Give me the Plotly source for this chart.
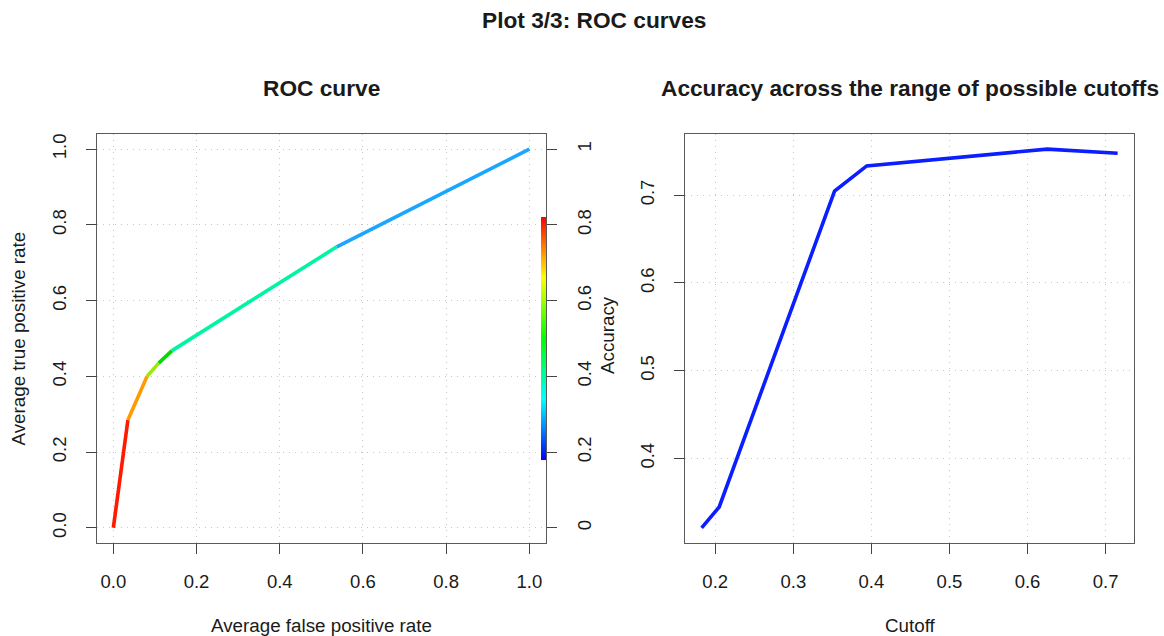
import plotly.graph_objects as go

# ROC curve vertices (averaged false / true positive rates)
roc_fpr = [0.0, 0.035, 0.081, 0.109, 0.141, 0.537, 1.0]
roc_tpr = [0.0, 0.285, 0.400, 0.435, 0.468, 0.742, 1.0]
# colour of each ROC segment (rainbow colour key)
segment_colors = ["#FF1A00", "#FF9A00", "#9BEA00", "#00DC00", "#00F5A0", "#1AA6FF"]

# accuracy versus cutoff
cutoff = [0.1826, 0.2051, 0.3528, 0.3940, 0.6251, 0.7154]
accuracy = [0.3210, 0.3448, 0.7046, 0.7334, 0.7525, 0.7479]

# colour key range and ticks
colorkey_range = [0.18, 0.82]
unit_ticks = [0, 0.2, 0.4, 0.6, 0.8, 1.0]
unit_ticks_right = ["0", "0.2", "0.4", "0.6", "0.8", "1"]
cutoff_ticks = [0.2, 0.3, 0.4, 0.5, 0.6, 0.7]
accuracy_ticks = [0.4, 0.5, 0.6, 0.7]

W, H = 1164, 636
FONT = "Liberation Sans, Arial, Helvetica, sans-serif"
TXT = "#1a1a1a"
TICK_SIZE = 18.5
AXIS_TITLE_SIZE = 18.8
TITLE_SIZE = 22.7


def px_x(p):
    return p / W


def px_y(p):
    return 1 - p / H


def padded(vals):
    lo, hi = min(vals), max(vals)
    d = (hi - lo) * 0.04
    return [lo - d, hi + d]


rainbow = [[0.0, "#0000FF"], [0.25, "#00FFFF"], [0.5, "#00FF00"],
           [0.75, "#FFFF00"], [1.0, "#FF0000"]]

fig = go.Figure()

# ROC segments, one trace per colour
for i, col in enumerate(segment_colors):
    fig.add_trace(go.Scatter(
        x=roc_fpr[i:i + 2], y=roc_tpr[i:i + 2], mode="lines",
        line=dict(color=col, width=3.6), xaxis="x", yaxis="y",
        showlegend=False, hoverinfo="skip"))

# colour key drawn as a thin bar on the right edge of the ROC panel
fig.add_trace(go.Scatter(
    x=[roc_fpr[0], roc_fpr[0]], y=[roc_tpr[0], roc_tpr[0]], mode="markers",
    marker=dict(size=0.1, opacity=0, color=colorkey_range, colorscale=rainbow,
                cmin=colorkey_range[0], cmax=colorkey_range[1], showscale=True,
                colorbar=dict(x=px_x(546), xanchor="right", xpad=0, ypad=0,
                              y=px_y(217), yanchor="top", lenmode="pixels", len=243,
                              thickness=5, outlinewidth=0, showticklabels=False,
                              ticks="")),
    xaxis="x", yaxis="y", showlegend=False, hoverinfo="skip"))

# accuracy curve
fig.add_trace(go.Scatter(
    x=cutoff, y=accuracy, mode="lines",
    line=dict(color="#0A1EFF", width=3.6), xaxis="x2", yaxis="y2",
    showlegend=False, hoverinfo="skip"))

grid = dict(showgrid=True, gridcolor="#c6c6c6", gridwidth=1.2, griddash="1.2px,4.8px",
            zeroline=False)
frame = dict(showline=True, linecolor="#5a5a5a", linewidth=1.4, mirror=True,
             ticks="outside", ticklen=10, tickwidth=1.2, tickcolor="#444444",
             tickfont=dict(family=FONT, size=TICK_SIZE, color=TXT),
             automargin=False, fixedrange=True)

left_dom = [px_x(96.7), px_x(546)]
right_dom = [px_x(685), px_x(1134.3)]
y_dom = [px_y(543), px_y(134)]

fig.update_layout(
    width=W, height=H,
    margin=dict(l=0, r=0, t=0, b=0),
    paper_bgcolor="white", plot_bgcolor="white",
    font=dict(family=FONT, color=TXT),
    xaxis=dict(domain=left_dom, anchor="y", range=padded(roc_fpr),
               tickvals=unit_ticks, tickformat=".1f", ticklabelstandoff=12,
               **grid, **frame),
    yaxis=dict(domain=y_dom, anchor="x", range=padded(roc_tpr),
               tickvals=unit_ticks, tickformat=".1f", tickangle=-90,
               ticklabelstandoff=12, **grid, **frame),
    yaxis3=dict(overlaying="y", anchor="x", side="right", range=padded(roc_tpr),
                tickvals=unit_ticks, ticktext=unit_ticks_right, tickangle=-90,
                showgrid=False, zeroline=False, showline=False, ticks="outside",
                ticklen=10, tickwidth=1.2, tickcolor="#444444",
                ticklabelstandoff=12,
                tickfont=dict(family=FONT, size=TICK_SIZE, color=TXT),
                automargin=False, fixedrange=True),
    xaxis2=dict(domain=right_dom, anchor="y2", range=padded(cutoff),
                tickvals=cutoff_ticks, tickformat=".1f", ticklabelstandoff=12,
                **grid, **frame),
    yaxis2=dict(domain=y_dom, anchor="x2", range=padded(accuracy),
                tickvals=accuracy_ticks, tickformat=".1f", tickangle=-90,
                ticklabelstandoff=12, **grid, **frame),
)

# a dummy trace so the right-hand axis of the ROC panel is drawn
fig.add_trace(go.Scatter(x=[None], y=[None], xaxis="x", yaxis="y3",
                         showlegend=False, hoverinfo="skip"))


def label(text, x, y, size=AXIS_TITLE_SIZE, bold=False, angle=0):
    fig.add_annotation(
        text=f"<b>{text}</b>" if bold else text,
        x=px_x(x), y=px_y(y), xref="paper", yref="paper",
        xanchor="center", yanchor="middle", showarrow=False, textangle=angle,
        font=dict(family=FONT, size=size, color=TXT))


label("Plot 3/3: ROC curves", 594, 20, TITLE_SIZE, bold=True)
label("ROC curve", 321, 88, TITLE_SIZE, bold=True)
label("Accuracy across the range of possible cutoffs", 910, 88, TITLE_SIZE, bold=True)
label("Average false positive rate", 321, 625)
label("Cutoff", 910, 625)
label("Average true positive rate", 18, 338.5, angle=-90)
label("Accuracy", 607, 335, angle=-90)

fig.write_html("out.html")
